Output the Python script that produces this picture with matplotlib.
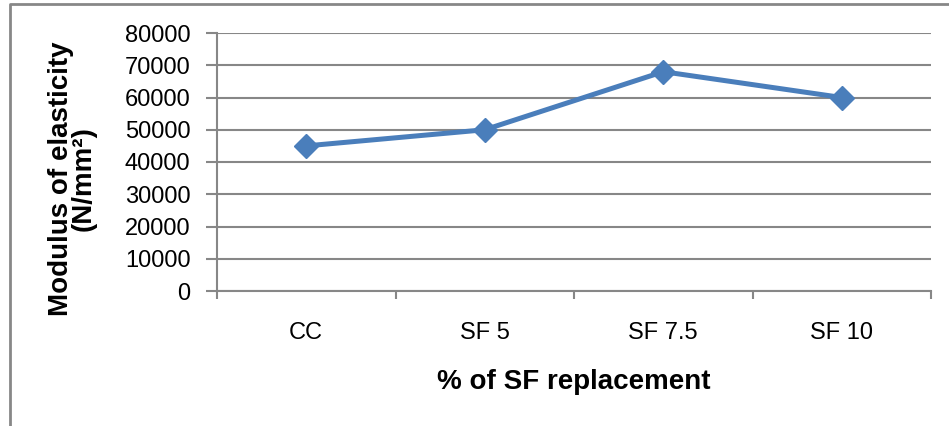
import matplotlib

matplotlib.use("Agg")

import matplotlib.pyplot as plt
import numpy as np
from matplotlib.lines import Line2D

plt.rcParams["font.family"] = ["Liberation Sans", "DejaVu Sans"]

categories = ["CC", "SF 5", "SF 7.5", "SF 10"]
modulus = [45000, 50000, 68000, 60000]
y_ticks = [0, 10000, 20000, 30000, 40000, 50000, 60000, 70000, 80000]

line_color = "#4A7EBB"
grid_color = "#878787"

fig = plt.figure(figsize=(9.49, 4.26), dpi=100)
ax = fig.add_axes([217 / 949, 1 - 291 / 426, (931 - 217) / 949, (291 - 33) / 426])

x = np.arange(len(categories))
ax.plot(x, modulus, color=line_color, linewidth=3.6, marker="D", markersize=12,
        solid_joinstyle="round", zorder=3)

ax.set_xlim(-0.5, len(categories) - 0.5)
ax.set_ylim(0, 80000)
ax.set_yticks(y_ticks)
ax.set_yticklabels([str(v) for v in y_ticks], fontsize=17)
ax.yaxis.grid(True, color=grid_color, linewidth=1.5)
ax.set_axisbelow(True)

ax.set_xticks(x)
ax.set_xticklabels(categories, fontsize=17)
ax.tick_params(axis="x", length=0, pad=22)
ax.set_xticks(np.arange(len(categories) + 1) - 0.5, minor=True)
ax.tick_params(axis="x", which="minor", length=6, width=1.5, color=grid_color, direction="out")
ax.tick_params(axis="y", length=8, width=1.5, color=grid_color, pad=11)

for side in ["top", "right"]:
    ax.spines[side].set_visible(False)
for side in ["left", "bottom"]:
    ax.spines[side].set_color(grid_color)
    ax.spines[side].set_linewidth(1.5)

ax.set_xlabel("% of SF replacement", fontsize=20, fontweight="bold", labelpad=18)
ax.set_ylabel("Modulus of elasticity\n(N/mm²)", fontsize=20, fontweight="bold",
              labelpad=20, linespacing=0.85)
ax.yaxis.label.set_y(0.435)

# 外框（只露出左边和上边）
fig.add_artist(Line2D([10 / 949, 10 / 949, 1.0], [0.0, 1 - 4 / 426, 1 - 4 / 426],
                      transform=fig.transFigure, color=grid_color, linewidth=2))

fig.savefig("out.png", dpi=100)
